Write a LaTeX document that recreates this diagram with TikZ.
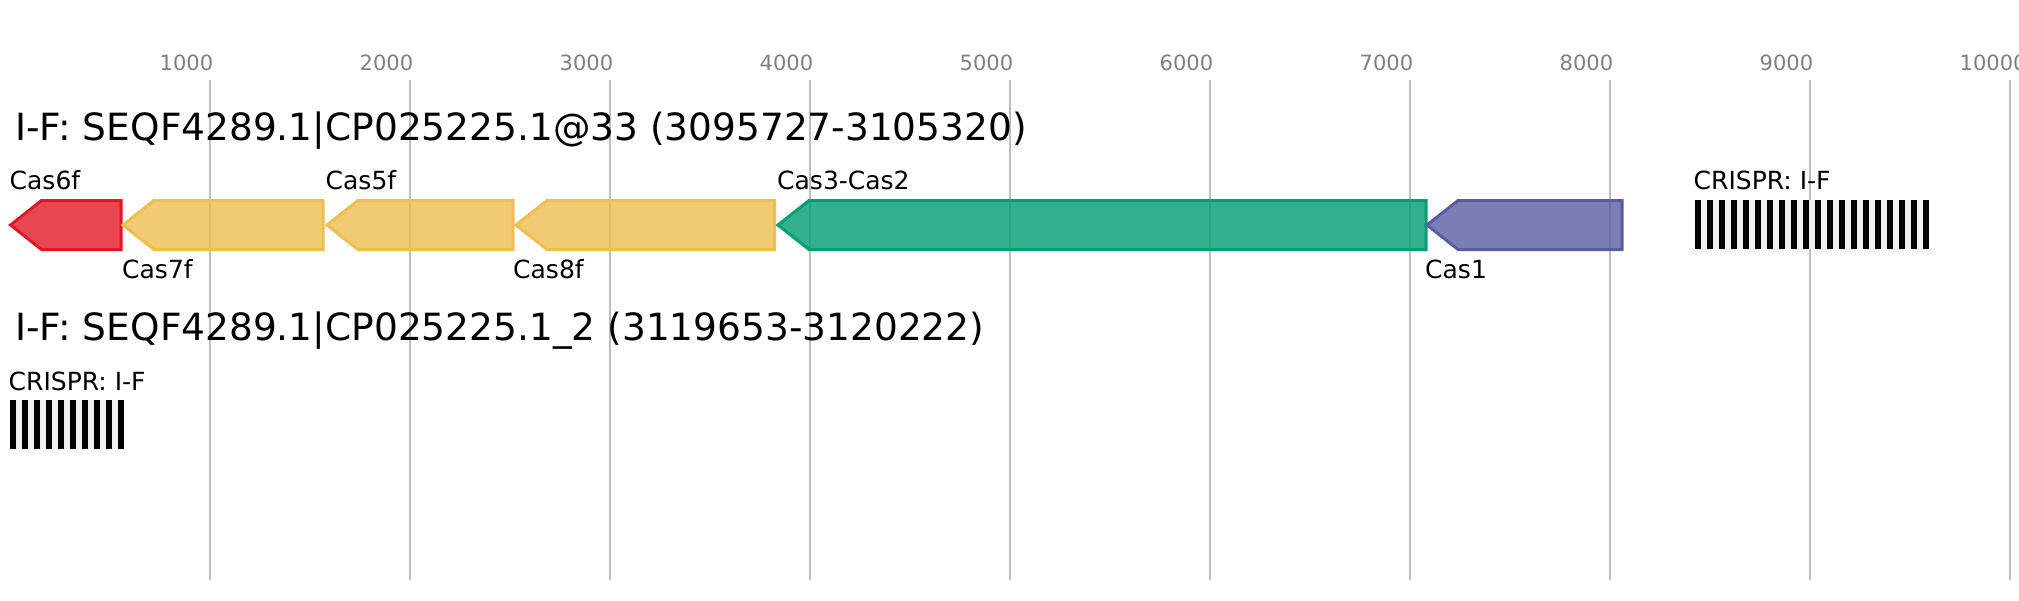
\documentclass[tikz,border=0pt]{standalone}
\usepackage{fontspec}
\setmainfont{DejaVu Sans}
\usepackage{xcolor}

\definecolor{gridgray}{RGB}{190,190,190}
\definecolor{ticktext}{RGB}{128,128,128}
\definecolor{casred}{RGB}{226,24,36}
\definecolor{casyellow}{RGB}{238,190,80}
\definecolor{casgreen}{RGB}{0,158,115}
\definecolor{casblue}{RGB}{90,92,163}
\definecolor{spacer}{RGB}{240,240,240}

\tikzset{
	gene/.style={draw=#1, fill=#1, fill opacity=0.8, line width=3pt, line join=miter},
	genelabel/.style={anchor=base west, inner sep=0pt, font=\fontsize{25}{30}\selectfont},
	titlelabel/.style={anchor=base west, inner sep=0pt, font=\fontsize{37.5}{45}\selectfont},
	ticklabel/.style={anchor=base west, inner sep=0pt, text=ticktext, font=\fontsize{21}{25}\selectfont}
}

% left-pointing gene: colour, tip x, right x, top y
\newcommand{\revgene}[4]{\filldraw[gene=#1] (#2,#4+24.5) -- (#2+31,#4) -- (#3,#4) -- (#3,#4+49) -- (#2+31,#4+49) -- cycle;}

\begin{document}
\begin{tikzpicture}[x=1pt,y=-1pt]

		      		\useasboundingbox (0,0) rectangle (2019,600);

		      		\foreach \k in {1,...,10}{
		      			\draw[gridgray, line width=2pt] (10+200*\k,80) -- (10+200*\k,580);
		      			\node[ticklabel] (tick\k) at (10+200*\k-50.5,70) {\k000};
		      		}

		      		\node[titlelabel] (title1) at (15,140.5) {I-F: SEQF4289.1|CP025225.1@33 (3095727-3105320)};

		      		\revgene{casred}{10.5}{121}{200.5}
		      		\revgene{casyellow}{123}{323}{200.5}
		      		\revgene{casyellow}{327}{513}{200.5}
		      		\revgene{casyellow}{516}{774.5}{200.5}
		      		\revgene{casgreen}{778}{1426}{200.5}
		      		\revgene{casblue}{1427}{1622}{200.5}

		      		\node[genelabel] (cas6f) at (9.5,189) {Cas6f};
		      		\node[genelabel] (cas7f) at (122,278) {Cas7f};
		      		\node[genelabel] (cas5f) at (325.5,189) {Cas5f};
		      		\node[genelabel] (cas8f) at (513,278) {Cas8f};
		      		\node[genelabel] (cas3) at (777,189) {Cas3-Cas2};
		      		\node[genelabel] (cas1) at (1425,278) {Cas1};

		      		\fill[spacer] (1695,200) rectangle (1929,249);
		      		\foreach \i in {0,...,19} \fill (1695+12*\i,200) rectangle ++(6,49);
		      		\node[genelabel] (crispr1) at (1693.5,189) {CRISPR: I-F};

		      		\node[titlelabel] (title2) at (15,340.5) {I-F: SEQF4289.1|CP025225.1\_2 (3119653-3120222)};

		      		\fill[spacer] (10,400) rectangle (124,449);
		      		\foreach \i in {0,...,9} \fill (10+12*\i,400) rectangle ++(6,49);
		      		\node[genelabel] (crispr2) at (8.5,390) {CRISPR: I-F};

		      	\end{tikzpicture}
\end{document}
